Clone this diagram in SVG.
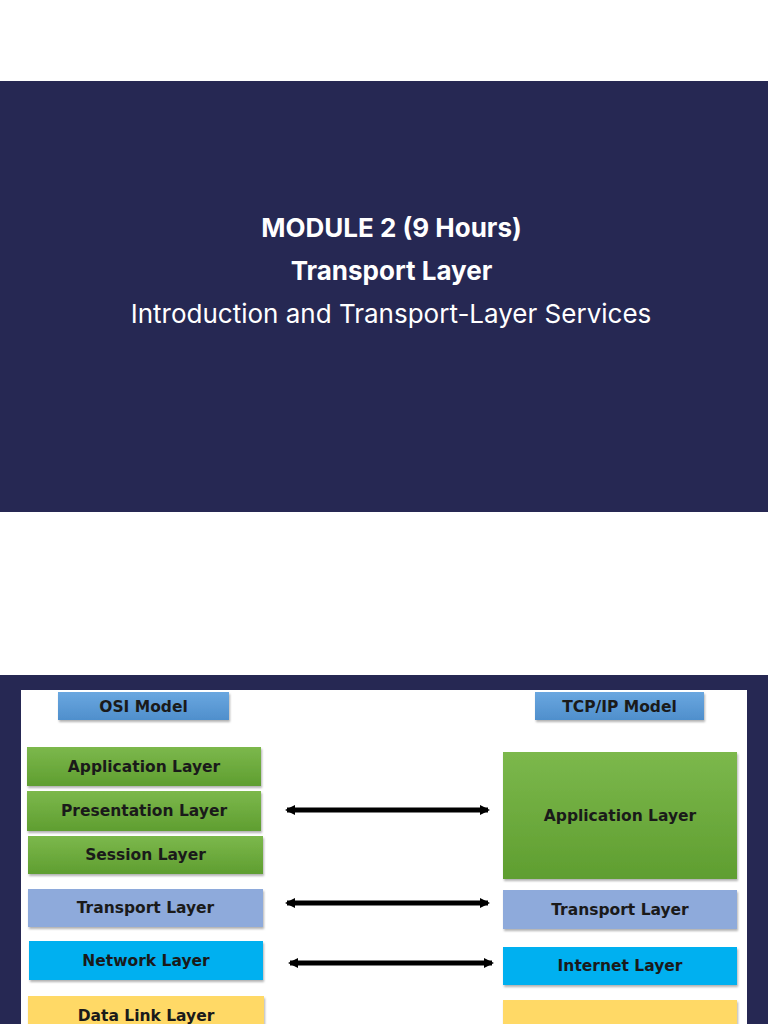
<svg xmlns="http://www.w3.org/2000/svg" width="768" height="1024" viewBox="0 0 768 1024">
<defs>
<linearGradient id="gGreen" x1="0" y1="0" x2="0" y2="1"><stop offset="0" stop-color="#7cb84c"/><stop offset="1" stop-color="#5f9e30"/></linearGradient>
<linearGradient id="gBlue" x1="0" y1="0" x2="0" y2="1"><stop offset="0" stop-color="#6aa7e0"/><stop offset="1" stop-color="#4f8fcc"/></linearGradient>
<filter id="sh" x="-5%" y="-10%" width="110%" height="130%"><feDropShadow dx="1" dy="2" stdDeviation="1.2" flood-color="#000" flood-opacity="0.3"/></filter>
<marker id="ah" viewBox="0 0 10 10" refX="8" refY="5" markerWidth="2" markerHeight="2.2" orient="auto-start-reverse"><path d="M0,0 L10,5 L0,10 z" fill="#000"/></marker>
</defs>
<style>
.title{font-family:Inter,"Open Sans",sans-serif;fill:#ffffff;text-anchor:middle}
.lbl{font-family:"DejaVu Sans",Verdana,sans-serif;font-weight:bold;font-size:15.5px;fill:#1a1a1a;text-anchor:middle}
.box{filter:url(#sh)}
.conn{stroke:#000;stroke-width:5;fill:none;marker-start:url(#ah);marker-end:url(#ah)}
</style>
<rect width="768" height="1024" fill="#ffffff"/>
<rect x="0" y="81" width="768" height="431" fill="#262853"/>
<text class="title" x="391.5" y="237" font-size="26" font-weight="bold">MODULE 2 (9 Hours)</text>
<text class="title" x="391.5" y="280" font-size="26" font-weight="bold">Transport Layer</text>
<text class="title" x="391" y="323" font-size="26">Introduction and Transport-Layer Services</text>
<rect x="0" y="675" width="768" height="349" fill="#262853"/>
<rect x="21" y="690" width="726" height="334" fill="#ffffff"/>
<g id="osi-model"><rect class="box" x="58" y="692" width="171" height="28" fill="url(#gBlue)"/><text class="lbl" x="143.5" y="712">OSI Model</text></g>
<g id="tcpip-model"><rect class="box" x="535" y="692" width="169" height="28" fill="url(#gBlue)"/><text class="lbl" x="619.5" y="712">TCP/IP Model</text></g>
<g id="osi-application"><rect class="box" x="27" y="747" width="234" height="39" fill="url(#gGreen)"/><text class="lbl" x="144" y="772">Application Layer</text></g>
<g id="osi-presentation"><rect class="box" x="27" y="791" width="234" height="40" fill="url(#gGreen)"/><text class="lbl" x="144" y="816">Presentation Layer</text></g>
<g id="osi-session"><rect class="box" x="28" y="836" width="235" height="38" fill="url(#gGreen)"/><text class="lbl" x="145.5" y="860">Session Layer</text></g>
<g id="osi-transport"><rect class="box" x="28" y="889" width="235" height="38" fill="#8eaadb"/><text class="lbl" x="145.5" y="913">Transport Layer</text></g>
<g id="osi-network"><rect class="box" x="29" y="941" width="234" height="39" fill="#00b0f0"/><text class="lbl" x="146" y="966">Network Layer</text></g>
<g id="osi-datalink"><rect class="box" x="28" y="996" width="236" height="40" fill="#ffd966"/><text class="lbl" x="146" y="1021">Data Link Layer</text></g>
<g id="tcp-application"><rect class="box" x="503" y="752" width="234" height="127" fill="url(#gGreen)"/><text class="lbl" x="620" y="821">Application Layer</text></g>
<g id="tcp-transport"><rect class="box" x="503" y="890" width="234" height="39" fill="#8eaadb"/><text class="lbl" x="620" y="915">Transport Layer</text></g>
<g id="tcp-internet"><rect class="box" x="503" y="947" width="234" height="38" fill="#00b0f0"/><text class="lbl" x="620" y="971">Internet Layer</text></g>
<g id="tcp-network-access"><rect class="box" x="503" y="1000" width="234" height="40" fill="#ffd966"/></g>
<g id="connectors">
<line class="conn" x1="287" y1="810" x2="488" y2="810"/>
<line class="conn" x1="287" y1="903" x2="488" y2="903"/>
<line class="conn" x1="290" y1="963" x2="492" y2="963"/>
</g>
</svg>
